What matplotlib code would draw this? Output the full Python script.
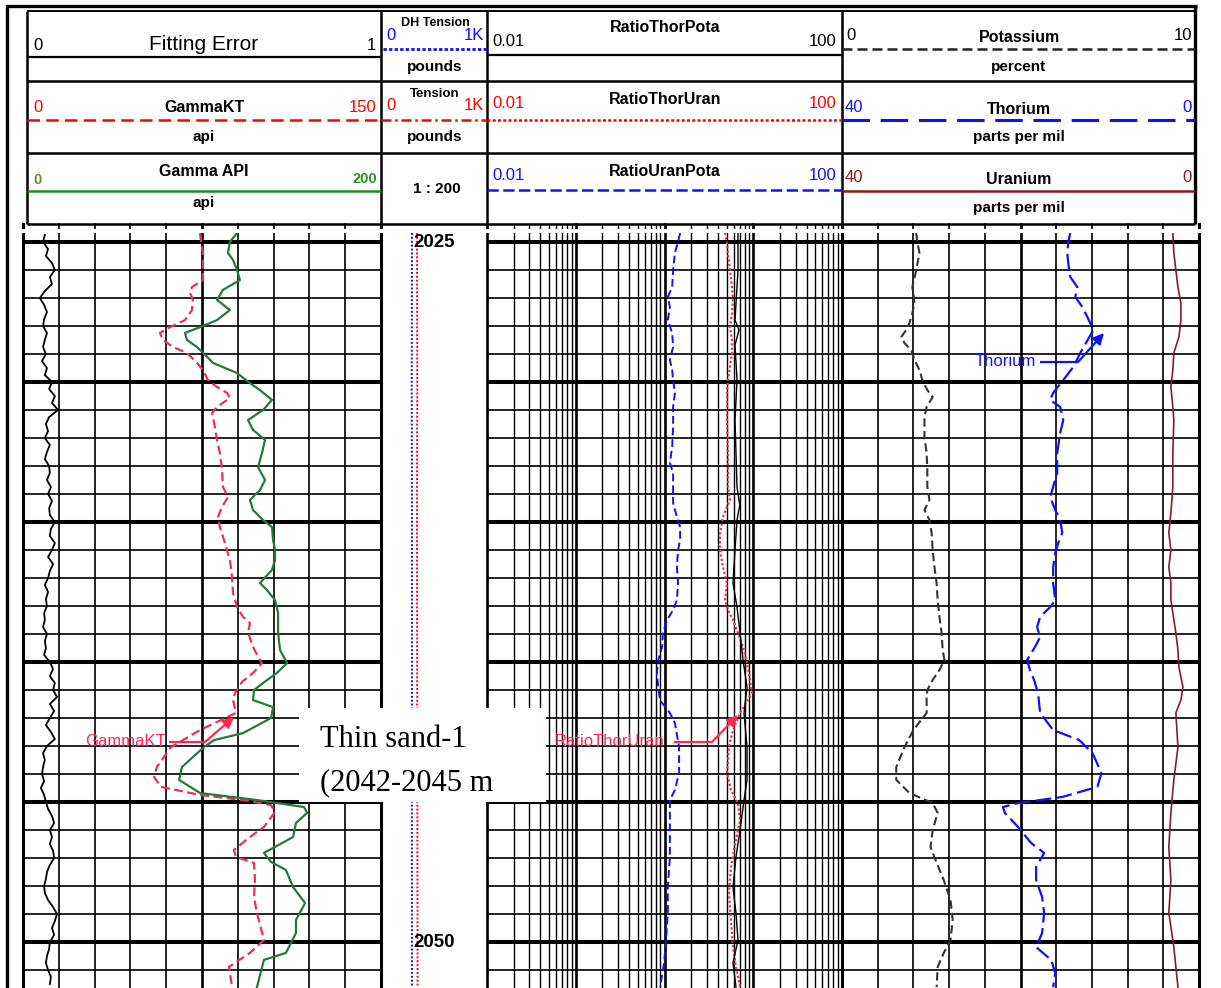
import numpy as np
import matplotlib
matplotlib.use("Agg")
import matplotlib.pyplot as plt
from matplotlib.patches import Rectangle

plt.rcParams['font.family'] = ['Liberation Sans', 'DejaVu Sans']

# ------------------------------------------------------------------
# Log data (depth in metres)
# ------------------------------------------------------------------
# Track 1
fit_depth = np.linspace(2024.75, 2051.5, 108)
fit_error = [0.061, 0.056, 0.070, 0.064, 0.081, 0.089, 0.075, 0.081, 0.061, 0.047,
             0.059, 0.067, 0.059, 0.056, 0.067, 0.061, 0.056, 0.064, 0.053, 0.067,
             0.061, 0.081, 0.073, 0.089, 0.081, 0.098, 0.073, 0.064, 0.070, 0.061,
             0.075, 0.067, 0.061, 0.073, 0.075, 0.067, 0.078, 0.070, 0.081, 0.073,
             0.075, 0.089, 0.078, 0.075, 0.089, 0.081, 0.070, 0.084, 0.075, 0.070,
             0.061, 0.070, 0.064, 0.067, 0.059, 0.061, 0.056, 0.067, 0.061, 0.064,
             0.059, 0.075, 0.084, 0.075, 0.089, 0.084, 0.095, 0.075, 0.087, 0.075,
             0.064, 0.078, 0.089, 0.067, 0.056, 0.061, 0.056, 0.053, 0.059, 0.050,
             0.059, 0.064, 0.070, 0.081, 0.087, 0.075, 0.081, 0.075, 0.084, 0.087,
             0.075, 0.067, 0.064, 0.059, 0.061, 0.070, 0.084, 0.095, 0.089, 0.081,
             0.087, 0.075, 0.073, 0.067, 0.064, 0.070, 0.078, 0.075]

gkt_depth = [2024.68, 2025.00, 2025.39, 2026.00, 2026.36, 2026.61, 2026.82, 2027.07, 2027.43,
             2027.79, 2028.04, 2028.25, 2028.50, 2028.75, 2028.96, 2029.32, 2029.57, 2029.93, 2030.18,
             2030.39, 2030.57, 2030.89, 2031.11, 2031.61, 2032.07, 2032.54, 2033.14, 2033.75, 2034.11,
             2034.46, 2034.82, 2035.18, 2035.75, 2036.36, 2036.96, 2037.54, 2038.04, 2038.39, 2038.61,
             2038.96, 2039.46, 2039.82, 2040.04, 2040.39, 2040.71, 2041.11, 2041.36, 2041.82, 2042.43,
             2043.04, 2043.75, 2044.11, 2044.46, 2044.75, 2044.93, 2045.11, 2045.36, 2045.89, 2046.25,
             2046.71, 2046.96, 2047.18, 2047.79, 2048.39, 2048.96, 2049.93, 2050.39, 2050.89, 2051.61]
gkt_api = [74.2, 74.6, 75.4, 75.4, 75.4, 70.8, 70.0, 71.2, 70.8,
           67.9, 61.6, 57.4, 58.7, 62.8, 68.7, 72.9, 75.4, 77.5, 81.3,
           85.5, 86.7, 81.3, 79.2, 80.4, 81.3, 82.5, 83.4, 83.8, 85.9,
           83.4, 81.7, 82.5, 84.6, 86.7, 87.6, 88.0, 89.7, 92.2, 95.1,
           94.3, 96.4, 98.5, 100.1, 96.4, 91.8, 88.8, 88.0, 89.2, 74.2,
           62.0, 56.1, 54.9, 57.8, 74.2, 92.2, 103.9, 105.6, 101.0, 95.1,
           88.4, 89.2, 96.8, 97.2, 96.8, 98.0, 101.0, 95.1, 86.3, 87.6]

gapi_depth = [2024.68, 2025.00, 2025.39, 2025.64, 2026.00, 2026.36, 2026.71, 2027.07, 2027.43,
              2027.79, 2028.04, 2028.25, 2028.50, 2028.75, 2028.96, 2029.32, 2029.68, 2030.04, 2030.29,
              2030.64, 2031.00, 2031.36, 2031.71, 2032.07, 2032.54, 2033.04, 2033.50, 2033.86, 2034.21,
              2034.57, 2034.93, 2035.18, 2035.64, 2036.00, 2036.36, 2036.71, 2037.18, 2037.43, 2037.79,
              2038.25, 2038.96, 2039.57, 2040.04, 2040.39, 2040.75, 2041.00, 2041.36, 2041.61, 2042.00,
              2042.54, 2042.79, 2043.04, 2043.75, 2044.21, 2044.68, 2044.93, 2045.18, 2045.39, 2045.75,
              2046.25, 2046.82, 2047.14, 2047.43, 2048.04, 2048.61, 2049.21, 2049.68, 2050.39, 2050.64,
              2051.61]
gapi_api = [119.6, 115.6, 114.5, 117.3, 119.6, 121.2, 111.7, 108.4, 115.6,
            108.4, 98.9, 90.5, 91.6, 97.2, 100.6, 106.2, 119.6, 126.8, 132.4,
            139.1, 134.1, 125.7, 128.5, 135.2, 133.5, 131.3, 135.2, 132.4, 126.8,
            128.5, 134.1, 139.1, 139.7, 140.8, 140.8, 139.1, 132.4, 136.3, 140.8,
            142.5, 142.5, 143.6, 147.5, 141.9, 134.1, 129.1, 128.5, 139.7, 138.6,
            122.9, 106.7, 101.1, 88.8, 87.2, 98.9, 130.7, 157.0, 158.7, 152.5,
            150.9, 134.6, 138.6, 146.9, 150.9, 157.6, 152.5, 152.5, 146.9, 134.6,
            130.7]

# Depth track (tension, pounds)
tens_depth = [2024.68, 2030.0, 2035.0, 2040.0, 2045.0, 2051.61]
dh_tension = [292, 290, 292, 293, 291, 292]
tension = [340, 342, 340, 341, 343, 345]

# Track 2 (ratios, logarithmic)
rup_depth = [2024.68, 2025.00, 2025.39, 2026.00, 2026.61, 2026.96, 2027.32, 2027.79, 2028.25,
             2028.75, 2029.21, 2029.57, 2029.93, 2030.39, 2030.89, 2031.61, 2032.32, 2032.89, 2033.25,
             2033.75, 2034.32, 2034.82, 2035.18, 2035.64, 2036.00, 2036.61, 2037.18, 2037.79, 2038.14,
             2038.50, 2038.96, 2039.46, 2039.93, 2040.39, 2040.89, 2041.36, 2041.82, 2042.18, 2043.04,
             2043.96, 2044.57, 2044.93, 2046.00, 2046.96, 2048.04, 2048.96, 2049.93, 2050.75, 2051.61]
ratio_uran_pota = [1.50, 1.42, 1.31, 1.25, 1.22, 1.09, 1.15, 1.09, 1.22,
                   1.25, 1.15, 1.22, 1.25, 1.31, 1.25, 1.25, 1.22, 1.15, 1.25,
                   1.25, 1.25, 1.38, 1.50, 1.50, 1.42, 1.38, 1.42, 1.38, 1.25,
                   1.07, 0.96, 0.94, 0.85, 0.82, 0.85, 0.89, 1.15, 1.31, 1.46,
                   1.46, 1.31, 1.15, 1.15, 1.15, 1.09, 1.09, 1.04, 0.99, 0.89]

rtu_depth = [2024.68, 2025.00, 2025.39, 2026.00, 2026.61, 2027.07, 2027.54, 2028.04, 2028.50, 2028.96,
             2029.46, 2029.93, 2030.39, 2031.36, 2032.54, 2033.75, 2034.21, 2034.46, 2034.82, 2035.04,
             2035.39, 2036.00, 2036.61, 2037.18, 2037.79, 2038.14, 2038.50, 2038.96, 2039.46, 2040.04,
             2040.64, 2041.11, 2041.82, 2042.43, 2043.04, 2043.96, 2044.57, 2045.04, 2045.64, 2046.36,
             2047.32, 2048.25, 2049.21, 2050.18, 2050.89, 2051.61]
ratio_thor_uran = [4.81, 5.06, 5.19, 5.47, 5.76, 5.91, 5.76, 5.47, 5.76, 5.76,
                   5.47, 5.19, 5.06, 5.06, 5.19, 5.19, 5.47, 5.06, 4.56, 4.44,
                   4.22, 4.22, 4.56, 5.06, 4.81, 5.19, 5.91, 6.73, 7.67, 8.51,
                   9.19, 9.68, 7.10, 5.91, 5.33, 5.06, 5.61, 6.73, 7.10, 6.39,
                   5.61, 5.33, 5.61, 5.91, 6.39, 7.10]

rtp_depth = [2024.68, 2026.00, 2026.61, 2027.79, 2028.14, 2028.68, 2029.93, 2031.36, 2032.54,
             2033.75, 2034.39, 2034.93, 2036.00, 2037.18, 2038.04, 2038.96, 2039.93, 2040.89,
             2041.82, 2043.04, 2044.21, 2044.93, 2046.00, 2046.96, 2048.04, 2048.96, 2049.93,
             2050.75, 2051.61]
ratio_thor_pota = [6.73, 6.73, 6.56, 6.23, 6.91, 6.23, 6.56, 6.23, 6.39,
                   6.56, 7.05, 6.56, 6.23, 5.91, 6.56, 7.10, 7.67, 8.51,
                   7.87, 8.51, 8.51, 7.87, 7.10, 6.39, 5.91, 6.39, 6.73,
                   5.91, 6.39]

# Track 3 (spectral components)
k_depth = [2024.68, 2025.00, 2025.39, 2026.00, 2026.61, 2027.18, 2027.54, 2027.89, 2028.14, 2028.39,
           2028.61, 2028.86, 2029.21, 2029.57, 2029.93, 2030.29, 2030.54, 2030.89, 2031.25, 2031.96,
           2032.54, 2033.14, 2033.75, 2034.21, 2034.57, 2034.93, 2035.39, 2036.00, 2036.61, 2037.18,
           2037.79, 2038.39, 2038.96, 2039.57, 2039.93, 2040.29, 2040.64, 2041.00, 2041.25, 2041.82,
           2042.43, 2043.04, 2043.75, 2044.21, 2044.68, 2045.04, 2045.39, 2046.00, 2046.61, 2047.07,
           2047.79, 2048.50, 2049.21, 2049.93, 2050.39, 2050.89, 2051.61]
potassium = [2.08, 2.11, 2.17, 2.08, 1.97, 2.03, 1.97, 1.89, 1.80, 1.66,
             1.75, 1.94, 2.03, 2.17, 2.25, 2.39, 2.54, 2.37, 2.31, 2.31,
             2.37, 2.39, 2.39, 2.45, 2.31, 2.45, 2.51, 2.54, 2.59, 2.65,
             2.68, 2.73, 2.79, 2.82, 2.87, 2.73, 2.54, 2.39, 2.37, 2.37,
             2.00, 1.75, 1.52, 1.52, 1.89, 2.54, 2.68, 2.54, 2.48, 2.62,
             2.85, 3.04, 3.10, 3.04, 2.85, 2.68, 2.65]

th_depth = [2024.68, 2025.00, 2025.39, 2025.75, 2026.25, 2026.61, 2026.96, 2027.32, 2027.68, 2028.14,
            2028.96, 2029.46, 2029.93, 2030.39, 2030.64, 2030.89, 2031.36, 2031.82, 2032.54, 2033.25,
            2034.11, 2034.57, 2034.93, 2035.39, 2035.75, 2036.11, 2036.61, 2037.18, 2037.79, 2038.04,
            2038.39, 2038.75, 2039.11, 2039.46, 2039.93, 2040.29, 2040.64, 2041.11, 2041.82, 2042.43,
            2042.79, 2043.25, 2043.96, 2044.46, 2044.82, 2045.04, 2045.18, 2045.39, 2045.89, 2046.46,
            2046.82, 2047.32, 2047.79, 2048.39, 2048.96, 2049.68, 2050.18, 2050.64, 2051.11, 2051.61]
thorium = [14.42, 14.65, 14.76, 14.65, 14.42, 13.63, 13.86, 13.07, 12.51, 11.83,
           13.30, 14.08, 15.21, 16.34, 16.68, 15.55, 15.21, 15.55, 15.89, 15.89,
           16.68, 16.11, 15.55, 15.32, 15.77, 16.11, 16.34, 16.34, 16.11, 16.68,
           17.80, 18.14, 17.80, 18.37, 19.27, 18.93, 18.48, 18.03, 17.80, 16.34,
           13.41, 11.94, 10.93, 11.38, 15.32, 20.28, 21.97, 21.75, 20.28, 18.82,
           17.35, 18.25, 18.25, 17.58, 17.35, 17.58, 18.25, 16.56, 16.11, 16.34]

u_depth = [2024.68, 2025.39, 2026.61, 2027.18, 2027.79, 2028.39, 2028.96, 2029.57, 2030.18, 2030.89,
           2031.36, 2032.54, 2033.75, 2034.68, 2035.39, 2036.00, 2036.61, 2037.18, 2037.79, 2038.96,
           2039.57, 2040.18, 2040.89, 2041.36, 2041.82, 2043.04, 2044.21, 2045.39, 2046.61, 2047.79,
           2048.96, 2050.18, 2051.61]
uranium = [2.93, 2.82, 2.36, 2.03, 2.03, 2.25, 2.82, 2.93, 3.15, 2.93,
           2.82, 2.93, 2.93, 3.15, 3.38, 3.15, 3.38, 3.15, 3.15, 2.59,
           2.36, 2.25, 1.80, 2.03, 2.59, 2.36, 2.82, 3.15, 3.38, 3.15,
           3.38, 2.82, 2.36]

depth_labels = [2025, 2050]

# ------------------------------------------------------------------
# Figure layout (pixel based)
# ------------------------------------------------------------------
W, H = 1221, 988
fig = plt.figure(figsize=(W / 100, H / 100), dpi=100)
fig.patch.set_facecolor('white')


def rect(x0, y0, x1, y1):
    return [x0 / W, 1 - y1 / H, (x1 - x0) / W, (y1 - y0) / H]


GRID_Y0, GRID_Y1 = 224.5, 988.0
PX_PER_M, REF_DEPTH, REF_Y = 28.0, 2025.0, 242.0
DTOP = REF_DEPTH + (GRID_Y0 - REF_Y) / PX_PER_M
DBOT = REF_DEPTH + (GRID_Y1 - REF_Y) / PX_PER_M

T1 = (23, 381)
TD = (381, 487)
T2 = (487, 842)
T3 = (842, 1199)

RED = '#ff0000'
CURVE_RED = '#ec2f55'
GREEN = '#237a3c'
BLUE = '#1010ff'
DARKRED = '#8b1a2a'
THIN = 1.2


def track(xr, xlim, log=False, z=1):
    ax = fig.add_axes(rect(xr[0], GRID_Y0, xr[1], GRID_Y1), zorder=z)
    if log:
        ax.set_xscale('log')
    ax.set_xlim(*xlim)
    ax.set_ylim(DBOT, DTOP)
    ax.axis('off')
    return ax


def depth_lines(ax):
    for d in range(2025, 2052):
        ax.axhline(d, color='black', lw=2.9 if d % 5 == 0 else THIN, zorder=1)


def linear_grid(ax, lo, hi):
    for i, v in enumerate(np.linspace(lo, hi, 11)):
        lw = 2.2 if i in (0, 10) else (1.9 if i == 5 else THIN)
        ax.axvline(v, color='black', lw=lw, zorder=1, clip_on=False)


def log_grid(ax):
    for n in range(-2, 2):
        for k in range(1, 10):
            ax.axvline(k * 10.0 ** n, color='black', lw=1.9 if k == 1 else 1.0,
                       zorder=1, clip_on=False)
    ax.axvline(100, color='black', lw=2.0, zorder=1, clip_on=False)


# background / header axes
bg = fig.add_axes([0, 0, 1, 1], zorder=0)
bg.set_xlim(0, W)
bg.set_ylim(H, 0)
bg.axis('off')


def hl(y, x0, x1, lw=1.6, color='black', ls='-'):
    bg.plot([x0, x1], [y, y], color=color, lw=lw, ls=ls, solid_capstyle='butt')


def vl(x, y0, y1, lw=1.6, color='black'):
    bg.plot([x, x], [y0, y1], color=color, lw=lw, solid_capstyle='butt')


# outer frame
vl(7, 5, 988, lw=2.4)
hl(6, 6, 1197, lw=2.4)
hl(11, 27, 1195, lw=1.4)
for x in (27, 381, 487, 842):
    vl(x, 11, 224.5, lw=1.8)
vl(1195, 5, 224.5, lw=2.4)
hl(57, 27, 381)
hl(55, 487, 842)
for y in (81, 153, 224):
    hl(y, 27, 1195, lw=1.8)

# header curve keys
hl(49, 383, 487, lw=2.0, color=BLUE, ls=(0, (1.2, 0.8)))
hl(49, 842, 1195, lw=1.8, color='#222222', ls=(0, (4, 2)))
hl(120, 27, 381, lw=1.8, color=RED, ls=(0, (5, 2.5)))
hl(120, 381, 487, lw=1.8, color=RED, ls=(0, (4, 1.5, 1, 1.5)))
hl(120, 487, 842, lw=1.8, color=RED, ls=(0, (1.2, 0.9)))
hl(120, 842, 1195, lw=2.2, color=BLUE, ls=(0, (9, 3.5)))
hl(191, 27, 381, lw=1.8, color='#1e8c1e')
hl(190, 487, 842, lw=1.8, color=BLUE, ls=(0, (4.5, 1.8)))
hl(191, 842, 1195, lw=1.8, color='#8b1a1a')


def htxt(x, y, s, ha='center', size=11.5, color='black', weight='bold'):
    bg.text(x, y, s, ha=ha, va='center', fontsize=size, color=color, fontweight=weight)


# row 1
htxt(33, 45, '0', 'left', 12, weight='normal')
htxt(204, 45, 'Fitting Error', size=15, weight='normal')
htxt(376, 45, '1', 'right', 12, weight='normal')
htxt(435, 23, 'DH Tension', size=9)
htxt(386, 35, '0', 'left', 12, BLUE, 'normal')
htxt(484, 35, '1K', 'right', 12, BLUE, 'normal')
htxt(435, 67, 'pounds', size=11)
htxt(665, 27, 'RatioThorPota')
htxt(492, 42, '0.01', 'left', 12, weight='normal')
htxt(837, 41, '100', 'right', 12, weight='normal')
htxt(846, 35, '0', 'left', 12, weight='normal')
htxt(1019, 38, 'Potassium')
htxt(1192, 35, '10', 'right', 12, weight='normal')
htxt(1019, 67, 'percent', size=11)
# row 2
htxt(33, 107, '0', 'left', 12, RED, 'normal')
htxt(204, 108, 'GammaKT')
htxt(376, 107, '150', 'right', 12, RED, 'normal')
htxt(435, 94, 'Tension', size=9.5)
htxt(386, 106, '0', 'left', 12, RED, 'normal')
htxt(484, 106, '1K', 'right', 12, RED, 'normal')
htxt(204, 137, 'api', size=11)
htxt(435, 137, 'pounds', size=11)
htxt(492, 104, '0.01', 'left', 12, RED, 'normal')
htxt(665, 99, 'RatioThorUran')
htxt(837, 104, '100', 'right', 12, RED, 'normal')
htxt(845, 107, '40', 'left', 12, BLUE, 'normal')
htxt(1019, 109, 'Thorium')
htxt(1192, 107, '0', 'right', 12, BLUE, 'normal')
htxt(1019, 137, 'parts per mil', size=11)
# row 3
htxt(33, 180, '0', 'left', 10.5, '#6b8e23')
htxt(204, 172, 'Gamma API')
htxt(377, 179, '200', 'right', 10.5, '#2f8f2f')
htxt(204, 203, 'api', size=11)
htxt(437, 189, '1 : 200', size=11)
htxt(492, 175, '0.01', 'left', 12, BLUE, 'normal')
htxt(665, 172, 'RatioUranPota')
htxt(837, 175, '100', 'right', 12, BLUE, 'normal')
htxt(845, 178, '40', 'left', 12, '#8b1a1a', 'normal')
htxt(1019, 180, 'Uranium')
htxt(1192, 178, '0', 'right', 12, '#8b1a1a', 'normal')
htxt(1019, 208, 'parts per mil', size=11)

# ------------------------------------------------------------------
# Track 1: fitting error, GammaKT, Gamma API
# ------------------------------------------------------------------
ax1 = track(T1, (0, 1), z=1)
depth_lines(ax1)
linear_grid(ax1, 0, 1)
ax1.plot(fit_error, fit_depth, color='black', lw=1.3, zorder=3)

ax1b = track(T1, (0, 150), z=2)
ax1b.plot(gkt_api, gkt_depth, color=CURVE_RED, lw=1.6, ls=(0, (4, 2)))

ax1c = track(T1, (0, 200), z=3)
ax1c.plot(gapi_api, gapi_depth, color=GREEN, lw=1.6)

# Depth track: tensions
axd = track(TD, (0, 1000), z=2)
axd.plot(dh_tension, tens_depth, color=BLUE, lw=1.4, ls=(0, (1, 1)))
axd.plot(tension, tens_depth, color=RED, lw=1.4, ls=(0, (1, 1)))

# Track 2: ratios on log scale
ax2 = track(T2, (0.01, 100), log=True, z=2)
depth_lines(ax2)
log_grid(ax2)
ax2.plot(ratio_uran_pota, rup_depth, color=BLUE, lw=1.4, ls=(0, (4, 2)), zorder=3)
ax2.plot(ratio_thor_uran, rtu_depth, color=CURVE_RED, lw=1.6, ls=(0, (1, 1)), zorder=3)
ax2.plot(ratio_thor_pota, rtp_depth, color='black', lw=1.0, zorder=3)

# Track 3: potassium, thorium, uranium
ax3 = track(T3, (0, 10), z=2)
depth_lines(ax3)
linear_grid(ax3, 0, 10)
ax3.plot(potassium, k_depth, color='#333333', lw=1.5, ls=(0, (4, 2)), zorder=3)

ax3b = track(T3, (40, 0), z=3)
ax3b.plot(thorium, th_depth, color=BLUE, lw=1.6, ls=(0, (7, 2.5)))

ax3c = track(T3, (40, 0), z=4)
ax3c.plot(uranium, u_depth, color=DARKRED, lw=1.2)

# ------------------------------------------------------------------
# Overlay: labels, arrows, annotation box
# ------------------------------------------------------------------
top = fig.add_axes([0, 0, 1, 1], zorder=20)
top.set_xlim(0, W)
top.set_ylim(H, 0)
top.axis('off')

# gap between header and grid
top.add_patch(Rectangle((15, 228.5), 1195, 4, facecolor='white', edgecolor='none'))

for d in depth_labels:
    top.text(434, REF_Y + (d - REF_DEPTH) * PX_PER_M, str(d), ha='center', va='center',
             fontsize=13.5, fontweight='bold', color='black')


def arrow_label(label, x_text, x_end, y, x_knee, tip, color):
    top.text(x_text, y, label, ha='left', va='center', fontsize=12, color=color)
    top.plot([x_end, x_knee], [y + 1, y + 1], color=color, lw=1.6, solid_capstyle='butt')
    top.annotate('', xy=tip, xytext=(x_knee, y + 1),
                 arrowprops=dict(arrowstyle='-|>', color=color, lw=1.6, mutation_scale=16,
                                 shrinkA=0, shrinkB=0))


arrow_label('GammaKT', 85, 169, 741, 205, (234, 717), '#ff2a50')
arrow_label('RatioThorUran', 555, 674, 741, 712, (738, 715), '#ff2a50')
arrow_label('Thorium', 975, 1040, 361, 1078, (1104, 333), BLUE)

top.add_patch(Rectangle((299, 708), 247, 94, facecolor='white', edgecolor='none'))
top.text(320, 747, 'Thin sand-1', ha='left', va='baseline', fontsize=22,
         family=['Liberation Serif', 'DejaVu Serif'])
top.text(320, 790, '(2042-2045 m', ha='left', va='baseline', fontsize=22,
         family=['Liberation Serif', 'DejaVu Serif'])

fig.savefig('out.png', dpi=100, facecolor='white')
